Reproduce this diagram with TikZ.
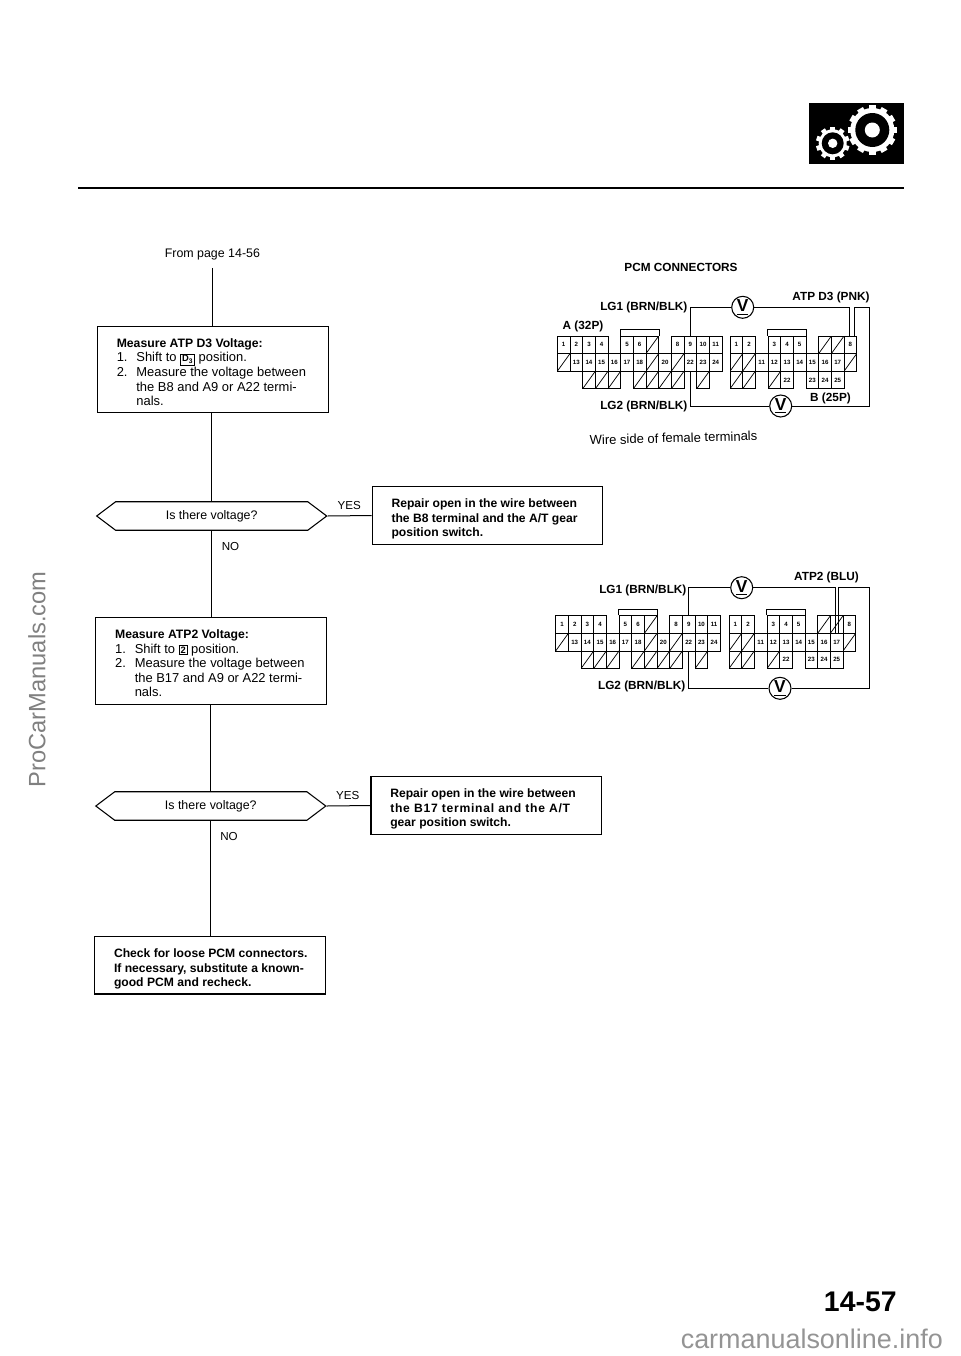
\documentclass[tikz,border=0pt]{standalone}
\usepackage{fontspec}
\setmainfont{Liberation Sans}
\usepackage{tikz}
\usetikzlibrary{shapes.symbols,calc}

\newcommand{\keybox}[1]{\smash{\setlength{\fboxsep}{0.9pt}\setlength{\fboxrule}{0.5pt}\fbox{\fontsize{7}{7}\selectfont\bfseries #1}}}
\newcommand{\numitem}[1]{\makebox[14.7pt][l]{#1}}
\newcommand{\boxlines}[1]{\raisebox{-2.9pt}[\height][\depth]{\makebox[144pt][l]{\begin{tabular}{@{}l@{}}#1\end{tabular}}}}
\newcommand{\boxhead}[1]{{\fontsize{9.15}{10.9}\selectfont\bfseries #1}}

% connector A (32P): prefix, left x, top y
\newcommand{\connA}[3]{
    \foreach \rw/\cl/\lb in {1/0/1,1/1/2,1/2/3,1/3/4,1/5/5,1/6/6,1/9/8,1/10/9,1/11/10,1/12/11,
        2/1/13,2/2/14,2/3/15,2/4/16,2/5/17,2/6/18,2/8/20,2/10/22,2/11/23,2/12/24}
        \node[termcell] (#1-\rw-\cl) at ({#2+(\cl+0.5)*12.67},{#3+(\rw-0.5)*17.6}) {\lb};
    \foreach \rw/\cl in {1/7,2/0,2/7,2/9,3/2,3/3,3/4,3/6,3/7,3/8,3/9,3/11}
        \node[termcell,slashcell] (#1-\rw-\cl) at ({#2+(\cl+0.5)*12.67},{#3+(\rw-0.5)*17.6}) {};
    \draw[wire] (#1-1-5.north west) -- ++(0,-6) -| (#1-1-7.north east);
}
% connector B (25P): prefix, left x, top y
\newcommand{\connB}[3]{
    \foreach \rw/\cl/\lb in {1/0/1,1/1/2,1/3/3,1/4/4,1/5/5,1/9/8,
        2/2/11,2/3/12,2/4/13,2/5/14,2/6/15,2/7/16,2/8/17,3/4/22,3/6/23,3/7/24,3/8/25}
        \node[termcell] (#1-\rw-\cl) at ({#2+(\cl+0.5)*12.67},{#3+(\rw-0.5)*17.6}) {\lb};
    \foreach \rw/\cl in {1/7,1/8,2/0,2/1,2/9,3/0,3/1,3/3}
        \node[termcell,slashcell] (#1-\rw-\cl) at ({#2+(\cl+0.5)*12.67},{#3+(\rw-0.5)*17.6}) {};
    \draw[wire] (#1-1-3.north west) -- ++(0,-6) -| (#1-1-5.north east);
}

\begin{document}
\begin{tikzpicture}[
    x=0.75pt, y=-0.75pt,
    every node/.style={font=\fontsize{9.3}{10.9}\selectfont},
    flow/.style={line width=0.75pt},
    wire/.style={line width=0.75pt},
    stepbox/.style={draw, line width=0.8pt, inner xsep=14.5pt, inner ysep=0pt, minimum height=43pt, font=\fontsize{9.7}{10.9}\selectfont},
    fixbox/.style={stepbox, font=\fontsize{9.1}{10.9}\selectfont\bfseries},
    decide/.style={signal, signal to=east and west, signal pointer angle=74, draw, line width=0.8pt, minimum width=172.5pt, minimum height=21.4pt, inner sep=0pt},
    termcell/.style={draw, line width=0.55pt, inner sep=0pt, minimum width=9.5pt, minimum height=13.2pt, font=\fontsize{4.6}{5}\selectfont\bfseries},
    slashcell/.style={path picture={\draw[line width=0.55pt] (path picture bounding box.south west) -- (path picture bounding box.north east);}},
    meter/.style={circle, draw, line width=0.8pt, fill=white, inner sep=0pt, minimum size=16.5pt, font=\fontsize{13}{13}\selectfont\bfseries},
    lab/.style={inner sep=0pt, font=\fontsize{8.85}{10}\selectfont\bfseries},
    ans/.style={inner sep=0pt, font=\fontsize{8.7}{10}\selectfont}
]
    \useasboundingbox (0,0) rectangle (960,1356);

    % page head
    \draw[line width=1.8pt] (78,187.7) -- (904,187.7);
    \fill (809.3,103.3) rectangle (904,164);
    \foreach \a in {0,30,...,330}
        \draw[white, line width=5pt] (872.3,130) ++(\a:20) -- ++(\a:4.6);
    \fill[white] (872.3,130) circle [radius=22];
    \fill (872.3,130) circle [radius=17];
    \fill[white] (872.3,130) circle [radius=7.5];
    \foreach \a in {18,54,...,342}
        \draw[white, line width=3.6pt] (832.7,143.3) ++(\a:12) -- ++(\a:4.8);
    \fill[white] (832.7,143.3) circle [radius=14];
    \fill (832.7,143.3) circle [radius=11];
    \fill[white] (832.7,143.3) circle [radius=4.7];

    % flow
    \node[inner ysep=6pt, inner xsep=0pt] (frompage) at (212.4,254) {From page 14-56};
    \node[stepbox, minimum height=64.5pt] (atpbox) at (212.8,369.7) {\boxlines{%
        \boxhead{Measure ATP D3 Voltage:}\\
        \numitem{1.}Shift to \keybox{D\textsubscript{3}} position.\\
        \numitem{2.}Measure the voltage between\\
        \hspace*{14.7pt}the B8 and A9 or A22 termi-\\
        \hspace*{14.7pt}nals.}};
    \node[decide] (askone) at (211.7,516) {Is there voltage?};
    \node[stepbox, minimum height=65.2pt] (blubox) at (211.2,660.8) {\boxlines{%
        \boxhead{Measure ATP2 Voltage:}\\
        \numitem{1.}Shift to \keybox{2} position.\\
        \numitem{2.}Measure the voltage between\\
        \hspace*{14.7pt}the B17 and A9 or A22 termi-\\
        \hspace*{14.7pt}nals.}};
    \node[decide] (asktwo) at (210.8,806) {Is there voltage?};
    \node[fixbox] (checkbox) at (210,965.3) {\boxlines{%
        Check for loose PCM connectors.\\
        If necessary, substitute a known-\\
        good PCM and recheck.}};
    \node[fixbox] (fixone) at (487.5,515.5) {\boxlines{%
        Repair open in the wire between\\
        the B8 terminal and the A/T gear\\
        position switch.}};
    \node[fixbox] (fixtwo) at (486.3,805.5) {\boxlines{%
        Repair open in the wire between\\
        {\addfontfeature{LetterSpace=6}the B17 terminal and the A/T}\\
        gear position switch.}};

    \node[ans] (noone) at (230.5,546.7) {NO};
    \node[ans] (notwo) at (229,836.7) {NO};
    \node[ans, anchor=east] (yesone) at (361,505) {YES};
    \node[ans, anchor=east] (yestwo) at (359.5,795) {YES};

    \draw[flow] (frompage.south) -- (frompage.south |- atpbox.north);
    \draw[flow] (askone.north) -- (askone.north |- atpbox.south);
    \draw[flow] (askone.south) -- (askone.south |- blubox.north);
    \draw[flow] (asktwo.north) -- (asktwo.north |- blubox.south);
    \draw[flow] (asktwo.south) -- (asktwo.south |- checkbox.north);
    \draw[flow] (askone.east) -- (fixone.west);
    \draw[flow] (asktwo.east) -- (fixtwo.west);

    % upper connectors
    \node[lab] (pcmtitle) at (681,267) {PCM CONNECTORS};
    \connA{pa}{557.3}{336}
    \connB{pb}{730}{336}
    \node[meter] (vone) at (742.7,307.3) {\underline{V}};
    \node[meter] (vtwo) at (780.7,406) {\underline{V}};
    \coordinate (ctop) at (869.3,307.3);
    \coordinate (cbot) at (869.3,406);
    \draw[wire] (pa-1-10.north) |- (vone.west);
    \draw[wire] (vone.east) -| ([xshift=-0.8pt]pb-1-9.north);
    \draw[wire] ([xshift=3pt]pb-1-9.north) |- (ctop) -- (cbot) -- (vtwo.east);
    \draw[wire] (vtwo.west) -| (pa-2-10.south);
    \node[lab, anchor=east] (lgone) at (687.7,307) {LG1 (BRN/BLK)};
    \node[lab, anchor=east] (lgtwo) at (687.7,406) {LG2 (BRN/BLK)};
    \node[lab] (apins) at (583,326) {A (32P)};
    \node[lab] (bpins) at (830.5,398) {B (25P)};
    \node[lab] (atppnk) at (831,297) {ATP D3 (PNK)};
    \node[inner sep=0pt, rotate=1.5, font=\fontsize{9.75}{11}\selectfont] (wireside) at (673.5,438) {Wire side of female terminals};

    % lower connectors
    \connA{qa}{555.7}{615.7}
    \connB{qb}{729}{615.7}
    \node[meter] (vthree) at (741.7,587.7) {\underline{V}};
    \node[meter] (vfour) at (780,688.3) {\underline{V}};
    \coordinate (dtop) at (869.3,587.7);
    \coordinate (dbot) at (869.3,688.3);
    \draw[wire] (qa-1-10.north) |- (vthree.west);
    \draw[wire] (vthree.east) -| ([xshift=-1.2pt]qb-2-8.north);
    \draw[wire] ([xshift=1.2pt]qb-2-8.north) |- (dtop) -- (dbot) -- (vfour.east);
    \draw[wire] (vfour.west) -| (qa-2-10.south);
    \node[lab, anchor=east] (lgthree) at (686.7,590) {LG1 (BRN/BLK)};
    \node[lab, anchor=east] (lgfour) at (685.5,686.7) {LG2 (BRN/BLK)};
    \node[lab] (atpblu) at (826.5,577.7) {ATP2 (BLU)};

    % page foot
    \node[inner sep=0pt, font=\fontsize{21.3}{22}\selectfont\bfseries] (pageno) at (860.3,1302) {14-57};
    \node[inner sep=0pt, text=black!42, font=\fontsize{20.2}{21}\selectfont] (footmark) at (811.8,1339) {carmanualsonline.info};
    \node[inner sep=0pt, text=black!50, rotate=90, font=\fontsize{17.75}{19}\selectfont] (sidemark) at (37,679.4) {ProCarManuals.com};
\end{tikzpicture}
\end{document}
